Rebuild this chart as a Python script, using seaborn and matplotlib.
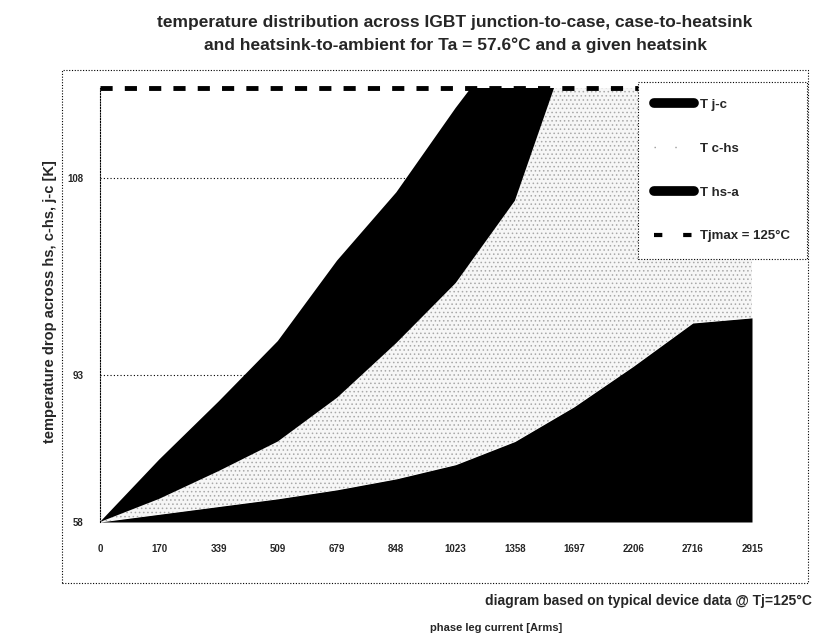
import numpy as np
import pandas as pd
import matplotlib
matplotlib.use("Agg")
import matplotlib.pyplot as plt
import seaborn as sns
from matplotlib.patches import Rectangle
from matplotlib.lines import Line2D

# ---- data ----
current_labels = ["0", "170", "339", "509", "679", "848", "1023",
                  "1358", "1697", "2206", "2716", "2915"]
t_ambient = 57.6
t_max = 125.0
# boundary temperatures (stack tops) at each current category
temp_heatsink = [57.6, 58.8, 60.0, 61.2, 62.6, 64.3, 66.5, 70.1, 75.5, 81.8, 88.5, 89.3]
temp_case = [57.6, 61.2, 65.5, 70.1, 76.9, 85.4, 94.7, 107.5, 134.0, 150.0, 165.0, 172.0]
temp_junction = [57.6, 67.3, 76.3, 85.7, 98.2, 108.8, 121.9, 134.0, 148.0, 163.0, 178.0, 190.0]
tjmax_series = [125.0] * 12
ytick_values = [57.6, 80.5, 111.0]
ytick_labels = ["58", "93", "108"]

sns.set_theme(style="white")
plt.rcParams['font.family'] = ['Liberation Sans', 'DejaVu Sans']
plt.rcParams['hatch.linewidth'] = 0.6

fig = plt.figure(figsize=(8.16, 6.4), dpi=100)
ax = fig.add_axes([100/816, 1-522/640, (752-100)/816, (522-88)/640])

x = np.arange(len(current_labels))
ax.fill_between(x, t_ambient, temp_heatsink, color='black', lw=0)
ax.fill_between(x, temp_heatsink, temp_case, facecolor='#f6f6f6',
                hatch='....', edgecolor='#a8a8a8', lw=0)
ax.fill_between(x, temp_case, temp_junction, color='black', lw=0)

df = pd.DataFrame({"i": x, "tj": tjmax_series})
sns.lineplot(data=df, x="i", y="tj", ax=ax, color='black', lw=3.5,
             dashes=False, linestyle=(0, (2.5, 2.5)), clip_on=False, zorder=5)

ax.set_xlim(0, len(x) - 1)
ax.set_ylim(t_ambient, t_max)
ax.set_xticks(x)
ax.set_xticklabels(current_labels, fontsize=7, fontweight='bold')
ax.set_yticks(ytick_values)
ax.set_yticklabels(ytick_labels, fontsize=7, fontweight='bold')
ax.set_xlabel("")
ax.set_ylabel("")
for v in ytick_values[1:]:
    ax.axhline(v, color='black', lw=0.8, ls=(0, (1, 2)), zorder=0.5)
for s in ['top', 'right', 'bottom']:
    ax.spines[s].set_visible(False)
ax.spines['left'].set_linestyle((0, (1, 1.5)))
ax.spines['left'].set_color('black')
ax.spines['left'].set_linewidth(0.8)
ax.tick_params(axis='x', length=0, pad=16)
ax.tick_params(axis='y', length=0, pad=12)
ax.set_facecolor('white')

# chart-area dotted border
fig.patches.append(Rectangle((62/816, 1-583/640), (808-62)/816, (583-70)/640,
                             transform=fig.transFigure, fill=False,
                             ec='black', lw=0.8, ls=(0, (1, 1.5))))

fig.text(455/816, 1-22/640, "temperature distribution across IGBT junction-to-case, case-to-heatsink",
         ha='center', va='center', fontsize=12.5, fontweight='bold')
fig.text(455/816, 1-45/640, "and heatsink-to-ambient for Ta = 57.6°C and a given heatsink",
         ha='center', va='center', fontsize=12.5, fontweight='bold')
fig.text(812/816, 1-601/640, "diagram based on typical device data @ Tj=125°C",
         ha='right', va='center', fontsize=10, fontweight='bold')
fig.text(496/816, 1-628/640, "phase leg current [Arms]",
         ha='center', va='center', fontsize=8, fontweight='bold')
fig.text(50/816, 1-302/640, "temperature drop across hs, c-hs, j-c [K]",
         ha='center', va='center', rotation=90, fontsize=10.5, fontweight='bold')

handles = [Line2D([], [], color='black', lw=7),
           Line2D([], [], color='#999999', lw=1, ls=(0, (1, 14))),
           Line2D([], [], color='black', lw=7),
           Line2D([], [], color='black', lw=3, ls=(0, (2, 5)))]
labels = ["T j-c", "T c-hs", "T hs-a", "Tjmax = 125°C"]
leg = fig.legend(handles, labels, loc='upper left', bbox_to_anchor=(638/816, 1-82/640),
                 bbox_transform=fig.transFigure, frameon=True, fancybox=False,
                 prop={'size': 9.5, 'weight': 'bold'}, labelspacing=2.4,
                 handlelength=3.0, borderpad=1.25, handletextpad=0.45,
                 borderaxespad=0)
leg.get_frame().set_edgecolor('black')
leg.get_frame().set_linestyle((0, (1, 1.5)))
leg.get_frame().set_linewidth(0.8)
leg.get_frame().set_facecolor('white')
leg.get_frame().set_alpha(1)

fig.savefig("out.png", dpi=100, facecolor='white')
